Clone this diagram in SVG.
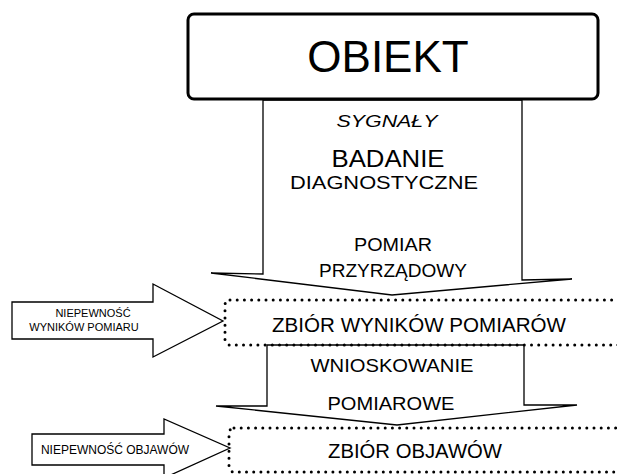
<svg xmlns="http://www.w3.org/2000/svg" width="617" height="474" viewBox="0 0 617 474">
<style>
text{font-family:"Liberation Sans",Arial,sans-serif;fill:#000;text-anchor:middle}
.arrow{fill:#fff;stroke:#000;stroke-width:1.3;stroke-linejoin:miter}
.dots{fill:none;stroke:#000;stroke-width:3;stroke-dasharray:0 7.2;stroke-linecap:round}
</style>
<rect width="617" height="474" fill="#fff"/>
<g id="connectors">
<polygon id="arrow-pomiar" class="arrow" points="263,100 263,274 211,273 392,295 572,279 522,280 522,100"/>
<polygon id="arrow-wnioskowanie" class="arrow" points="267,345 267,406 216,406 397,425 577,405 524,405 524,345"/>
<polygon id="arrow-niepewnosc-wynikow" class="arrow" points="12,302 153,302 153,284 223,321 153,357 153,339 12,339"/>
<polygon id="arrow-niepewnosc-objawow" class="arrow" points="32,434 164,434 164,419 230,448 164,478 164,465 32,465"/>
</g>
<g id="obiekt">
<rect x="188" y="14" width="410" height="85" rx="6" fill="#fff" stroke="#000" stroke-width="3"/>
<text x="388" y="72" font-size="44">OBIEKT</text>
</g>
<g id="labels-badanie">
<text x="387" y="127" font-size="17" font-style="italic" textLength="101" lengthAdjust="spacingAndGlyphs">SYGNAŁY</text>
<text x="388" y="167" font-size="24" textLength="113" lengthAdjust="spacingAndGlyphs">BADANIE</text>
<text x="384" y="189" font-size="18" textLength="188" lengthAdjust="spacingAndGlyphs">DIAGNOSTYCZNE</text>
<text x="393" y="251" font-size="18" textLength="78" lengthAdjust="spacingAndGlyphs">POMIAR</text>
<text x="393" y="277" font-size="19" textLength="148" lengthAdjust="spacingAndGlyphs">PRZYRZĄDOWY</text>
</g>
<g id="zbior-wynikow">
<rect class="dots" x="225" y="300" width="420" height="45" rx="5"/>
<text x="419" y="332" font-size="20" textLength="294" lengthAdjust="spacingAndGlyphs">ZBIÓR WYNIKÓW POMIARÓW</text>
</g>
<g id="labels-wnioskowanie">
<text x="392" y="372" font-size="19" textLength="163" lengthAdjust="spacingAndGlyphs">WNIOSKOWANIE</text>
<text x="391" y="410" font-size="19" textLength="127" lengthAdjust="spacingAndGlyphs">POMIAROWE</text>
</g>
<g id="zbior-objawow">
<rect class="dots" x="229" y="428" width="420" height="44" rx="5"/>
<text x="415" y="458" font-size="20" textLength="174" lengthAdjust="spacingAndGlyphs">ZBIÓR OBJAWÓW</text>
</g>
<g id="labels-niepewnosc">
<text x="93" y="317" font-size="11">NIEPEWNOŚĆ</text>
<text x="84" y="331" font-size="11">WYNIKÓW POMIARU</text>
<text x="115" y="454" font-size="12">NIEPEWNOŚĆ OBJAWÓW</text>
</g>
</svg>
